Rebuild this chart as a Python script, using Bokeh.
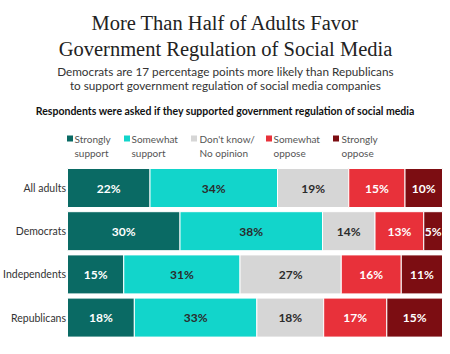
from bokeh.plotting import figure
from bokeh.models import Range1d, ColumnDataSource
from bokeh.core.properties import value
from bokeh.embed import file_html
from bokeh.resources import INLINE

# ---------------- data ----------------
groups = ["All adults", "Democrats", "Independents", "Republicans"]
categories = ["Strongly support", "Somewhat support", "Don't know/ No opinion",
              "Somewhat oppose", "Strongly oppose"]
legend_lines = [("Strongly", "support"), ("Somewhat", "support"), ("Don't know/", "No opinion"),
                ("Somewhat", "oppose"), ("Strongly", "oppose")]
strongly_support = [22, 30, 15, 18]
somewhat_support = [34, 38, 31, 33]
dont_know = [19, 14, 27, 18]
somewhat_oppose = [15, 13, 16, 17]
strongly_oppose = [10, 5, 11, 15]
series = [strongly_support, somewhat_support, dont_know, somewhat_oppose, strongly_oppose]

title_lines = ["More Than Half of Adults Favor", "Government Regulation of Social Media"]
subtitle_lines = ["Democrats are 17 percentage points more likely than Republicans",
                  "to support government regulation of social media companies"]
question = "Respondents were asked if they supported government regulation of social media"

# ---------------- style ----------------
colors = ["#0a6a64", "#12d5cb", "#d6d6d6", "#e8313a", "#7c0d12"]
label_colors = ["white", "#2b2b2b", "#2b2b2b", "white", "white"]
W, H = 450, 354
X0, XPX = 67.0, 3.75          # pixel of value 0, pixels per percent
Y0, YPX = 187.5, 43.2         # pixel of first row centre, pixels per row


def xd(px):
    return (px - X0) / XPX


def yd(px):
    return (px - Y0) / YPX


p = figure(width=W, height=H, output_backend="svg", toolbar_location=None,
           x_range=Range1d(xd(0), xd(W)), y_range=Range1d(yd(H), yd(0)),
           min_border=0, min_border_left=0, min_border_right=0,
           min_border_top=0, min_border_bottom=0)
p.axis.visible = False
p.grid.visible = False
p.outline_line_color = None
p.background_fill_color = "white"
p.border_fill_color = "white"

rows = list(range(len(groups)))
totals = [sum(s[i] for s in series) for i in rows]

left = [0.0] * len(groups)
for k, s in enumerate(series):
    widths = [s[i] / totals[i] * 100 for i in rows]
    rights = [left[i] + widths[i] for i in rows]
    src = ColumnDataSource(dict(y=rows, left=left, right=rights,
                                mid=[(left[i] + rights[i]) / 2 for i in rows],
                                lab=[f"{v}%" for v in s]))
    p.hbar(y="y", left="left", right="right", height=39 / YPX, source=src,
           fill_color=colors[k], line_color="white", line_width=1)
    p.text(x="mid", y="y", text="lab", source=src, text_align="center",
           text_baseline="middle", text_font=value("Lato"), text_font_style="bold",
           text_font_size="12px", text_color=label_colors[k])
    left = rights

# category labels
p.text(x=[xd(65.5)] * len(groups), y=rows, text=groups, text_align="right",
       text_baseline="middle", text_font=value("Lato"), text_font_size="10.5px",
       text_color="#333333")

# title
p.text(x=[xd(W / 2)] * 2, y=[yd(22), yd(48)], text=title_lines, text_align="center",
       text_baseline="middle", text_font=value("Liberation Serif"),
       text_font_size="20.5px", text_color="#222222")
# subtitle
p.text(x=[xd(W / 2)] * 2, y=[yd(70.5), yd(85)], text=subtitle_lines, text_align="center",
       text_baseline="middle", text_font=value("Lato"), text_font_size="11.75px",
       text_color="#333333")
# question
p.text(x=[xd(W / 2)], y=[yd(110)], text=[question], text_align="center",
       text_baseline="middle", text_font=value("Lato"), text_font_style="bold",
       text_font_size="10.5px", text_color="#111111")

# legend
sq_px = [69.5, 126.5, 193.5, 268.5, 335.5]
txt_px = [74, 131, 199, 273, 341]
p.rect(x=[xd(v) for v in sq_px], y=[yd(138)] * 5, width=6, height=6,
       width_units="screen", height_units="screen", fill_color=colors, line_color=None)
p.text(x=[xd(v) for v in txt_px] * 2, y=[yd(138)] * 5 + [yd(152)] * 5,
       text=[l[0] for l in legend_lines] + [l[1] for l in legend_lines],
       text_align="left", text_baseline="middle", text_font=value("Lato"),
       text_font_size="10px", text_color="#555555")

open("out.html", "w").write(file_html(p, INLINE))
